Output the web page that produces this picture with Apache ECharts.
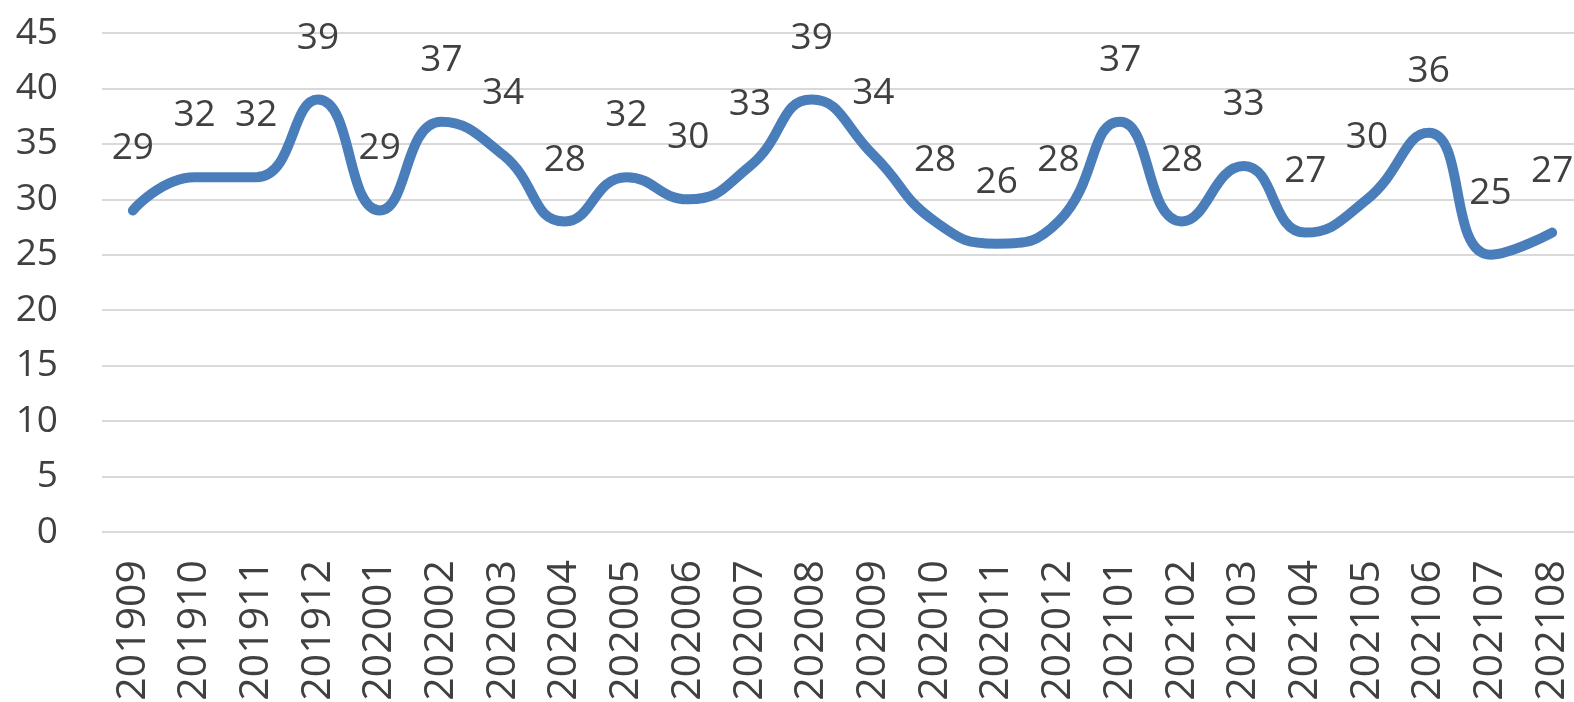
<!DOCTYPE html>
<html>
<head>
<meta charset="utf-8">
<script src="https://cdn.jsdelivr.net/npm/echarts@6/dist/echarts.min.js"></script>
<style>
html,body{margin:0;padding:0;background:#fff;}
#chart{width:1574px;height:702px;}
</style>
</head>
<body>
<div id="chart"></div>
<script>
const categories = ['201909','201910','201911','201912','202001','202002','202003','202004','202005','202006','202007','202008','202009','202010','202011','202012','202101','202102','202103','202104','202105','202106','202107','202108'];
const values = [29,32,32,39,29,37,34,28,32,30,33,39,34,28,26,28,37,28,33,27,30,36,25,27];
const yTicks = {min:0, max:45, interval:5};

const chart = echarts.init(document.getElementById('chart'));
chart.setOption({
  animation:false,
  grid:{left:102, right:-9, top:33, bottom:170, containLabel:false, outerBoundsMode:'none'},
  xAxis:{
    type:'category', data:categories, boundaryGap:true,
    axisLine:{show:false}, axisTick:{show:false},
    axisLabel:{rotate:90, margin:28, fontSize:41, fontFamily:'Open Sans', color:'#404040', interval:0}
  },
  yAxis:{
    type:'value', min:yTicks.min, max:yTicks.max, interval:yTicks.interval,
    axisLine:{show:false}, axisTick:{show:false},
    axisLabel:{margin:44, fontSize:37, fontFamily:'Open Sans', color:'#404040'},
    splitLine:{lineStyle:{color:'#d9d9d9', width:2}}
  },
  series:[{
    type:'line', data:values, smooth:0.5, showSymbol:true, symbol:'circle', symbolSize:2,
    itemStyle:{color:'#4a7ebb'},
    lineStyle:{color:'#4a7ebb', width:10, cap:'round', join:'round'},
    label:{show:true, position:'top', distance:42, fontSize:37, fontFamily:'Open Sans', color:'#404040'},
    labelLayout:{hideOverlap:false}
  }]
});
</script>
</body>
</html>
